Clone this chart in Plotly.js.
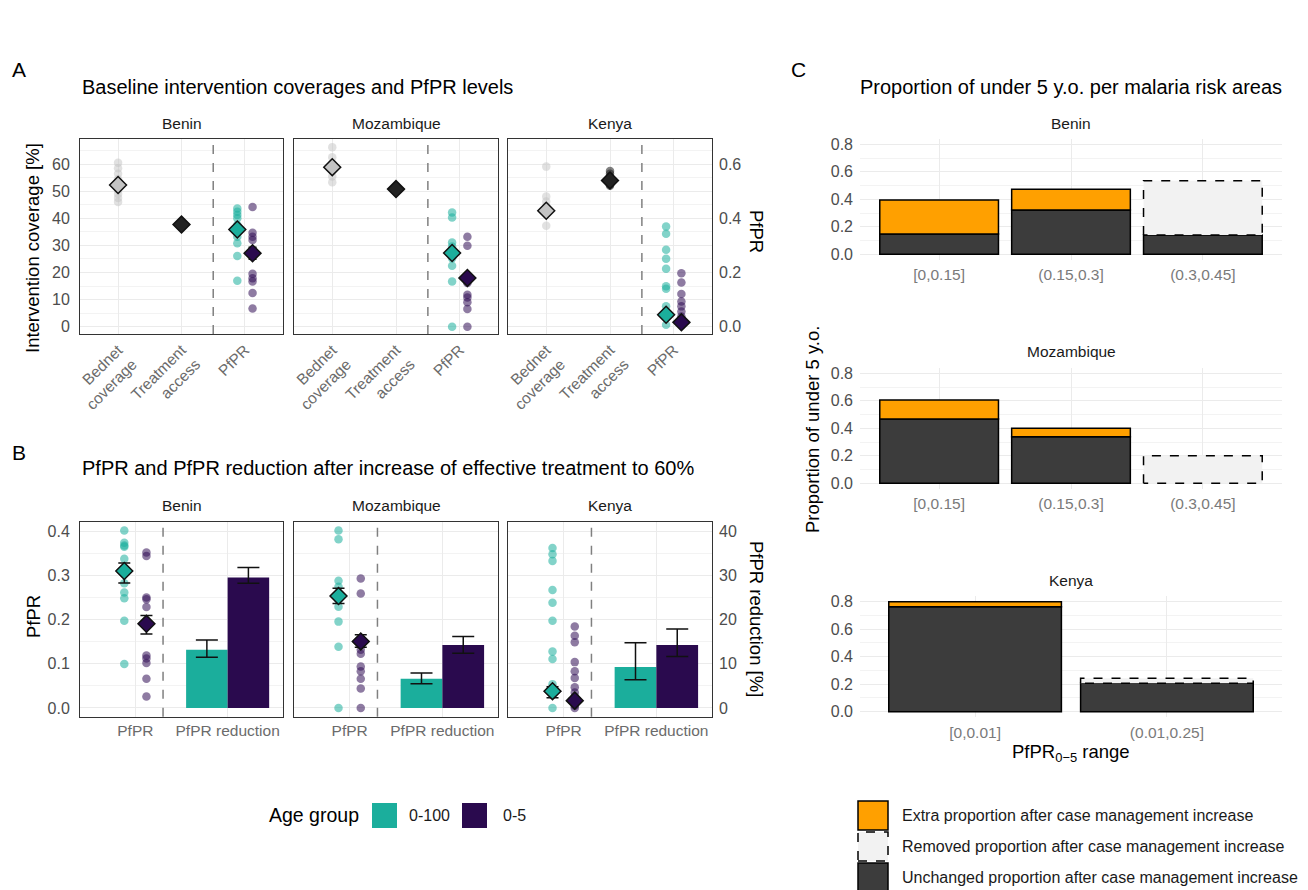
<!DOCTYPE html>
<html><head><meta charset="utf-8">
<script src="https://cdn.plot.ly/plotly-3.0.1.min.js"></script>
<style>html,body{margin:0;padding:0;background:#fff}</style>
</head><body><div id="chart" style="width:1308px;height:890px"></div>
<script>
// ================= DATA =================
const countries = ["Benin", "Mozambique", "Kenya"];

// ---- Panel A: baseline ----
const coverageCategories = ["Bednet<br>coverage", "Treatment<br>access", "PfPR"];
const bednetBenin = [60.5, 58.5, 56.5, 54.5, 52.5, 50.5, 49, 47.5, 46];
const bednetMozambique = [66.3, 62.6, 60.4, 57.9, 55.5, 53.3];
const bednetKenya = [59.1, 48.1, 46.2, 44.6, 43.2, 37.3];
const treatmentBenin = [38.1, 37.8, 37.5];
const treatmentMozambique = [51.2, 50.8, 50.5];
const treatmentKenya = [57.5, 56.5, 55.5, 54.5, 53.5, 52.5, 52.0];
const bednetMean = [52.3, 58.9, 42.8];
const treatmentMean = [37.7, 50.8, 54.0];
const baselinePfprAllBenin = [0.436, 0.424, 0.412, 0.400, 0.375, 0.357, 0.332, 0.308, 0.261, 0.170];
const baselinePfprAllMozambique = [0.422, 0.403, 0.311, 0.296, 0.272, 0.253, 0.225, 0.167, 0.0];
const baselinePfprAllKenya = [0.370, 0.343, 0.284, 0.251, 0.214, 0.149, 0.140, 0.075, 0.044, 0.007];
const baselinePfprU5Benin = [0.442, 0.347, 0.332, 0.320, 0.195, 0.179, 0.167, 0.124, 0.067];
const baselinePfprU5Mozambique = [0.332, 0.299, 0.180, 0.161, 0.118, 0.108, 0.090, 0.065, 0.0];
const baselinePfprU5Kenya = [0.197, 0.163, 0.121, 0.093, 0.075, 0.056, 0.038, 0.019, 0.007];
const baselineAllMean = [0.359, 0.272, 0.044];
const baselineAllErr = [0.015, 0.008, 0.008];
const baselineU5Mean = [0.271, 0.180, 0.016];
const baselineU5Err = [0.022, 0.007, 0.005];

// ---- Panel B: after increase of effective treatment ----
const outcomeCategories = ["PfPR", "PfPR reduction"];
const postPfprAllBenin = [0.403, 0.375, 0.369, 0.366, 0.339, 0.283, 0.262, 0.249, 0.198, 0.0995];
const postPfprAllMozambique = [0.403, 0.383, 0.289, 0.275, 0.245, 0.230, 0.196, 0.139, 0.0];
const postPfprAllKenya = [0.363, 0.349, 0.334, 0.268, 0.239, 0.198, 0.128, 0.111, 0.054, 0.0];
const postPfprU5Benin = [0.353, 0.345, 0.251, 0.247, 0.229, 0.119, 0.112, 0.102, 0.066, 0.026];
const postPfprU5Mozambique = [0.294, 0.260, 0.132, 0.123, 0.094, 0.083, 0.066, 0.044, 0.0];
const postPfprU5Kenya = [0.185, 0.164, 0.149, 0.104, 0.083, 0.068, 0.047, 0.035, 0.026, 0.015, 0.005, 0.0];
const postAllMean = [0.311, 0.254, 0.038];
const postAllLo = [0.284, 0.237, 0.023];
const postAllHi = [0.329, 0.272, 0.048];
const postU5Mean = [0.191, 0.151, 0.0165];
const postU5Lo = [0.168, 0.138, 0.011];
const postU5Hi = [0.210, 0.166, 0.022];
const reductionAll = [13.2, 6.6, 9.3];
const reductionAllLo = [11.5, 5.5, 6.4];
const reductionAllHi = [15.4, 7.9, 14.8];
const reductionU5 = [29.6, 14.3, 14.3];
const reductionU5Lo = [28.3, 12.4, 11.7];
const reductionU5Hi = [31.9, 16.2, 17.9];

// ---- Panel C: proportion of under 5 per risk area ----
const binsBenin = ["[0,0.15]", "(0.15,0.3]", "(0.3,0.45]"];
const binsMozambique = ["[0,0.15]", "(0.15,0.3]", "(0.3,0.45]"];
const binsKenya = ["[0,0.01]", "(0.01,0.25]"];
const beforeBenin = [0.148, 0.322, 0.535];
const afterBenin = [0.395, 0.473, 0.140];
const beforeMozambique = [0.468, 0.339, 0.201];
const afterMozambique = [0.606, 0.400, 0.0];
const beforeKenya = [0.764, 0.243];
const afterKenya = [0.800, 0.206];

// ================= STYLE =================
const W = 1308, H = 890;
const FONT = "Liberation Sans, Arial, sans-serif";
const TEAL = "#1BAE9C", PURPLE = "#2A0A4E";
const TEAL_PT = "rgba(27,174,156,0.55)", PURPLE_PT = "rgba(50,15,85,0.55)";
const ORANGE = "#FFA000", DARK = "#3C3C3C", REMOVED = "#F2F2F2";
const GRID = "#EBEBEB", MINOR = "#F3F3F3";
const DODGE = 0.12, BAR_W = 0.45, C_BAR_W = 0.9;
const TICK_Y = 16, TICK_X = 15.5, STRIP = 15.5, TITLE = 20, AXT = 18.5, LEG = 16;
const px = v => v / W, py = v => 1 - v / H;
const nm = n => (n === 1 ? "" : String(n));

const facetX = [[80, 283], [294, 498], [508, 712]];
const aY = [139, 334], bY = [521.7, 716.7];
const cX = [860, 1282];
const cY = [[138.8, 259.8], [367.8, 488.8], [596.2, 717.2]];

const traces = [];
const layout = {
  width: W, height: H, margin: {l: 0, r: 0, t: 0, b: 0},
  paper_bgcolor: "#fff", plot_bgcolor: "rgba(0,0,0,0)",
  showlegend: false, barmode: "overlay",
  font: {family: FONT, color: "#4D4D4D"},
  shapes: [], annotations: []
};

function boxAxisX(dom, range, tickvals, ticktext, angle) {
  return {domain: dom, range: range, tickvals: tickvals, ticktext: ticktext, tickangle: angle,
    showgrid: true, gridcolor: GRID, gridwidth: 1, zeroline: false, showline: true, mirror: true,
    linecolor: "#333", linewidth: 1, ticks: "", tickfont: {size: TICK_X, color: "#6B6B6B"}, fixedrange: true};
}
function boxAxisY(dom, range, dtick, minor, fmt) {
  return {domain: dom, range: range, dtick: dtick, tick0: 0, tickformat: fmt,
    showgrid: true, gridcolor: GRID, gridwidth: 1, zeroline: false, showline: true, mirror: true,
    linecolor: "#333", linewidth: 1, ticks: "", ticklabelstandoff: 6, tickfont: {size: TICK_Y, color: "#4D4D4D"},
    minor: {dtick: minor, showgrid: true, gridcolor: MINOR, gridwidth: 1}, fixedrange: true};
}
function overlayAxis(over, anchor, range, dtick, fmt, visible) {
  return {overlaying: over, anchor: anchor, side: "right", range: range, dtick: dtick, tick0: 0,
    tickformat: fmt, showgrid: false, zeroline: false, showline: false, ticks: "", visible: visible,
    ticklabelstandoff: 6, tickfont: {size: TICK_Y, color: "#4D4D4D"}, fixedrange: true};
}
function pts(x, y, color, xa, ya) {
  return {type: "scatter", mode: "markers", x: y.map(() => x), y: y, xaxis: xa, yaxis: ya,
    marker: {size: 8.5, color: color, line: {width: 0}}, hoverinfo: "skip"};
}
function diamond(x, y, fill, xa, ya, errMinus, errPlus, capW) {
  const t = {type: "scatter", mode: "markers", x: [x], y: [y], xaxis: xa, yaxis: ya,
    marker: {symbol: "diamond", size: 13, color: fill, line: {width: 1.5, color: "#111"}}, hoverinfo: "skip"};
  if (errMinus !== undefined) {
    t.error_y = {type: "data", symmetric: false, array: [errPlus], arrayminus: [errMinus],
      color: "#111", thickness: 1.5, width: capW};
  }
  return t;
}
function ann(text, x, y, opts) {
  layout.annotations.push(Object.assign({text: text, x: px(x), y: py(y), xref: "paper", yref: "paper",
    showarrow: false, xanchor: "center", yanchor: "middle", font: {family: FONT, size: STRIP, color: "#1A1A1A"}}, opts || {}));
}

// ================= PANEL A =================
const bednetByCountry = [bednetBenin, bednetMozambique, bednetKenya];
const treatmentByCountry = [treatmentBenin, treatmentMozambique, treatmentKenya];
const basePfprAll = [baselinePfprAllBenin, baselinePfprAllMozambique, baselinePfprAllKenya];
const basePfprU5 = [baselinePfprU5Benin, baselinePfprU5Mozambique, baselinePfprU5Kenya];
const aRange = [-2.7, 69.3];
for (let f = 0; f < 3; f++) {
  const xn = f + 1, yn = f + 1, ypn = f + 4;
  const xa = "x" + nm(xn), ya = "y" + nm(yn), yp = "y" + nm(ypn);
  layout["xaxis" + nm(xn)] = Object.assign(boxAxisX([px(facetX[f][0]), px(facetX[f][1])], [0.4, 3.6], [1, 2, 3], coverageCategories, -45), {anchor: ya});
  const yax = boxAxisY([py(aY[1]), py(aY[0])], aRange, 10, 5, "d");
  yax.anchor = xa; yax.showticklabels = (f === 0);
  layout["yaxis" + nm(yn)] = yax;
  layout["yaxis" + nm(ypn)] = overlayAxis(ya, xa, [aRange[0] / 100, aRange[1] / 100], 0.2, ".1f", f === 2);
  traces.push(pts(1, bednetByCountry[f], "rgba(195,195,195,0.5)", xa, ya));
  traces.push(pts(2, treatmentByCountry[f], "rgba(25,25,25,0.55)", xa, ya));
  traces.push(pts(3 - DODGE, basePfprAll[f], TEAL_PT, xa, yp));
  traces.push(pts(3 + DODGE, basePfprU5[f], PURPLE_PT, xa, yp));
  traces.push(diamond(1, bednetMean[f], "#C4C4C4", xa, ya));
  traces.push(diamond(2, treatmentMean[f], "#222", xa, ya));
  traces.push(diamond(3 - DODGE, baselineAllMean[f], TEAL, xa, yp, baselineAllErr[f], baselineAllErr[f], 4));
  traces.push(diamond(3 + DODGE, baselineU5Mean[f], PURPLE, xa, yp, baselineU5Err[f], baselineU5Err[f], 4));
  layout.shapes.push({type: "line", xref: xa, yref: ya + " domain", x0: 2.5, x1: 2.5, y0: 0, y1: 1,
    line: {color: "#808080", width: 1.5, dash: "dash"}});
  ann(countries[f], (facetX[f][0] + facetX[f][1]) / 2, 124);
}

// ================= PANEL B =================
const postAll = [postPfprAllBenin, postPfprAllMozambique, postPfprAllKenya];
const postU5 = [postPfprU5Benin, postPfprU5Mozambique, postPfprU5Kenya];
const bRange = [-0.02, 0.423];
for (let f = 0; f < 3; f++) {
  const xn = f + 4, yn = f + 7, yrn = f + 10;
  const xa = "x" + nm(xn), ya = "y" + nm(yn), yr = "y" + nm(yrn);
  layout["xaxis" + nm(xn)] = Object.assign(boxAxisX([px(facetX[f][0]), px(facetX[f][1])], [0.4, 2.6], [1, 2], outcomeCategories, 0), {anchor: ya});
  const yax = boxAxisY([py(bY[1]), py(bY[0])], bRange, 0.1, 0.05, ".1f");
  yax.anchor = xa; yax.showticklabels = (f === 0);
  layout["yaxis" + nm(yn)] = yax;
  layout["yaxis" + nm(yrn)] = overlayAxis(ya, xa, [bRange[0] * 100, bRange[1] * 100], 10, "d", f === 2);
  traces.push(pts(1 - DODGE, postAll[f], TEAL_PT, xa, ya));
  traces.push(pts(1 + DODGE, postU5[f], PURPLE_PT, xa, ya));
  traces.push(diamond(1 - DODGE, postAllMean[f], TEAL, xa, ya, postAllMean[f] - postAllLo[f], postAllHi[f] - postAllMean[f], 6));
  traces.push(diamond(1 + DODGE, postU5Mean[f], PURPLE, xa, ya, postU5Mean[f] - postU5Lo[f], postU5Hi[f] - postU5Mean[f], 6));
  traces.push({type: "bar", x: [2], y: [reductionAll[f]], base: 0, width: BAR_W, offset: -BAR_W, xaxis: xa, yaxis: yr,
    marker: {color: TEAL, line: {width: 0}}, hoverinfo: "skip",
    error_y: {type: "data", symmetric: false, array: [reductionAllHi[f] - reductionAll[f]], arrayminus: [reductionAll[f] - reductionAllLo[f]], color: "#111", thickness: 1.5, width: 11}});
  traces.push({type: "bar", x: [2], y: [reductionU5[f]], base: 0, width: BAR_W, offset: 0, xaxis: xa, yaxis: yr,
    marker: {color: PURPLE, line: {width: 0}}, hoverinfo: "skip",
    error_y: {type: "data", symmetric: false, array: [reductionU5Hi[f] - reductionU5[f]], arrayminus: [reductionU5[f] - reductionU5Lo[f]], color: "#111", thickness: 1.5, width: 11}});
  layout.shapes.push({type: "line", xref: xa, yref: ya + " domain", x0: 1.3, x1: 1.3, y0: 0, y1: 1,
    line: {color: "#808080", width: 1.5, dash: "dash"}});
  ann(countries[f], (facetX[f][0] + facetX[f][1]) / 2, 505);
}

// ================= PANEL C =================
const binsC = [binsBenin, binsMozambique, binsKenya];
const beforeC = [beforeBenin, beforeMozambique, beforeKenya];
const afterC = [afterBenin, afterMozambique, afterKenya];
for (let f = 0; f < 3; f++) {
  const xn = f + 7, yn = f + 13;
  const xa = "x" + nm(xn), ya = "y" + nm(yn);
  const bins = binsC[f], before = beforeC[f], after = afterC[f];
  const idx = bins.map((b, i) => i + 1);
  layout["xaxis" + nm(xn)] = {domain: [px(cX[0]), px(cX[1])], range: [0.4, bins.length + 0.6], anchor: ya,
    tickvals: idx, ticktext: bins, showgrid: true, gridcolor: GRID, zeroline: false, showline: false, ticks: "",
    ticklabelstandoff: 4, tickfont: {size: TICK_X, color: "#7A7A7A"}, fixedrange: true};
  layout["yaxis" + nm(yn)] = {domain: [py(cY[f][1]), py(cY[f][0])], range: [-0.04, 0.84], anchor: xa,
    dtick: 0.2, tick0: 0, tickformat: ".1f", showgrid: true, gridcolor: GRID, zeroline: false, showline: false,
    ticks: "", ticklabelstandoff: 6, tickfont: {size: TICK_Y, color: "#4D4D4D"}, minor: {dtick: 0.1, showgrid: true, gridcolor: MINOR}, fixedrange: true};
  const unchanged = before.map((b, i) => Math.min(b, after[i]));
  const extraIdx = idx.filter((_, i) => after[i] > before[i]);
  const remIdx = idx.filter((_, i) => before[i] > after[i]);
  // unchanged (dark)
  traces.push({type: "bar", x: idx.filter((_, i) => unchanged[i] > 0), y: unchanged.filter(v => v > 0), base: 0,
    width: C_BAR_W, xaxis: xa, yaxis: ya, marker: {color: DARK, line: {color: "#000", width: 1.5}}, hoverinfo: "skip"});
  // extra (orange)
  traces.push({type: "bar", x: extraIdx, y: extraIdx.map(i => after[i - 1] - before[i - 1]), base: extraIdx.map(i => before[i - 1]),
    width: C_BAR_W, xaxis: xa, yaxis: ya, marker: {color: ORANGE, line: {color: "#000", width: 1.5}}, hoverinfo: "skip"});
  // removed (light, dashed outline)
  traces.push({type: "bar", x: remIdx, y: remIdx.map(i => before[i - 1] - after[i - 1]), base: remIdx.map(i => after[i - 1]),
    width: C_BAR_W, xaxis: xa, yaxis: ya, marker: {color: REMOVED, line: {width: 0}}, hoverinfo: "skip"});
  const ox = [], oy = [];
  remIdx.forEach(i => {
    const lo = after[i - 1], hi = before[i - 1], h = C_BAR_W / 2;
    ox.push(i - h, i - h, i + h, i + h, i - h, null);
    oy.push(lo, hi, hi, lo, lo, null);
  });
  traces.push({type: "scatter", mode: "lines", x: ox, y: oy, xaxis: xa, yaxis: ya,
    line: {color: "#000", width: 1.5, dash: "dash"}, hoverinfo: "skip"});
  ann(countries[f], (cX[0] + cX[1]) / 2, [123, 352, 580][f]);
}

// ================= TITLES & LABELS =================
const BLACK = c => ({family: FONT, size: c, color: "#000"});
ann("A", 10, 70, {xanchor: "left", font: BLACK(21)});
ann("B", 10, 452, {xanchor: "left", font: BLACK(21)});
ann("C", 789, 70, {xanchor: "left", font: BLACK(21)});
ann("Baseline intervention coverages and PfPR levels", 80, 87, {xanchor: "left", font: BLACK(TITLE)});
ann("PfPR and PfPR reduction after increase of effective treatment to 60%", 80, 468, {xanchor: "left", font: BLACK(TITLE)});
ann("Proportion of under 5 y.o. per malaria risk areas", 1071, 87, {font: BLACK(TITLE)});
ann("Intervention coverage [%]", 33, 248, {textangle: -90, font: BLACK(AXT)});
ann("PfPR", 757, 232, {textangle: 90, font: BLACK(AXT)});
ann("PfPR", 33, 617, {textangle: -90, font: BLACK(AXT)});
ann("PfPR reduction [%]", 757, 619, {textangle: 90, font: BLACK(AXT)});
ann("Proportion of under 5 y.o.", 812, 430, {textangle: -90, font: BLACK(AXT)});
ann("PfPR<sub>0\u22125</sub> range", 1071, 753, {font: BLACK(AXT)});

// ---- Legend: age group ----
const ageGroups = ["0-100", "0-5"];
const ageColors = [TEAL, PURPLE];
ann("Age group", 267, 815, {xanchor: "left", font: BLACK(19.5)});
[[372, 407], [462, 501]].forEach((p, i) => {
  layout.shapes.push({type: "rect", xref: "paper", yref: "paper", x0: px(p[0]), x1: px(p[0] + 25), y0: py(828), y1: py(803),
    fillcolor: ageColors[i], line: {width: 0}});
  ann(ageGroups[i], p[1], 815, {xanchor: "left", font: {family: FONT, size: LEG, color: "#1A1A1A"}});
});

// ---- Legend: change categories ----
const changeLabels = ["Extra proportion after case management increase",
  "Removed proportion after case management increase",
  "Unchanged proportion after case management increase"];
const changeFills = [ORANGE, REMOVED, DARK];
const changeDash = ["solid", "dash", "solid"];
[[801, 830], [832, 861], [863, 891]].forEach((r, i) => {
  layout.shapes.push({type: "rect", xref: "paper", yref: "paper", x0: px(858), x1: px(888), y0: py(r[1]), y1: py(r[0]),
    fillcolor: changeFills[i], line: {color: "#000", width: 1.5, dash: changeDash[i]}});
  ann(changeLabels[i], 900, (r[0] + r[1]) / 2, {xanchor: "left", font: {family: FONT, size: LEG, color: "#1A1A1A"}});
});

Plotly.newPlot("chart", traces, layout, {staticPlot: true, displayModeBar: false});
</script>
</body></html>
